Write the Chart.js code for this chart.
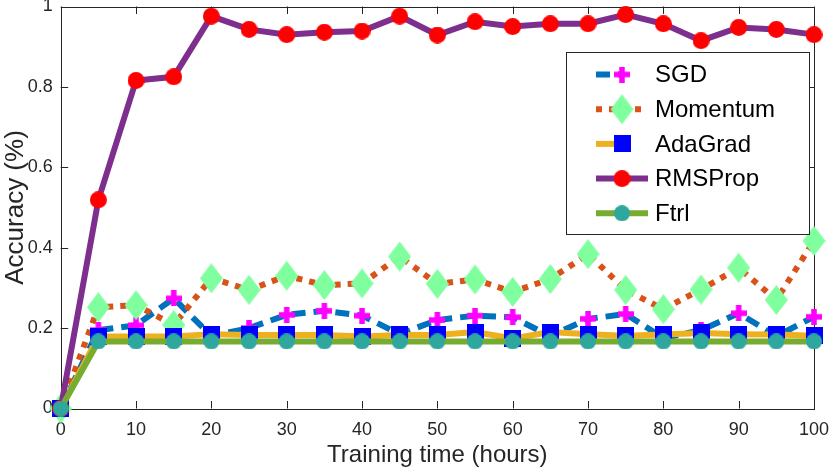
<!DOCTYPE html>
<html>
<head>
<meta charset="utf-8">
<script src="https://cdn.jsdelivr.net/npm/chart.js@4.4.1/dist/chart.umd.min.js"></script>
<style>
  html, body { margin: 0; padding: 0; background: #fff; }
  #wrap { width: 830px; height: 471px; }
</style>
</head>
<body>
<div id="wrap"><canvas id="chart" width="830" height="471"></canvas></div>
<script>
'use strict';

// training time (hours)
const hours = [0, 5, 10, 15, 20, 25, 30, 35, 40, 45, 50, 55, 60, 65, 70, 75, 80, 85, 90, 95, 100];

// accuracy
const sgd = [0, 0.195, 0.207, 0.274, 0.18, 0.2, 0.233, 0.243, 0.231, 0.185, 0.22,
  0.231, 0.227, 0.18, 0.223, 0.235, 0.175, 0.195, 0.237, 0.18, 0.228];
const momentum = [0, 0.252, 0.257, 0.208, 0.324, 0.295, 0.33, 0.307, 0.311, 0.378, 0.31,
  0.321, 0.29, 0.322, 0.384, 0.295, 0.247, 0.296, 0.35, 0.27, 0.417];
const adagrad = [0, 0.179, 0.179, 0.179, 0.185, 0.183, 0.183, 0.183, 0.179, 0.183, 0.183,
  0.19, 0.174, 0.19, 0.185, 0.181, 0.184, 0.188, 0.185, 0.184, 0.181];
const rmsprop = [0, 0.519, 0.816, 0.825, 0.976, 0.943, 0.93, 0.936, 0.939, 0.976, 0.929,
  0.962, 0.95, 0.957, 0.957, 0.98, 0.957, 0.915, 0.948, 0.943, 0.93];
const ftrl = [0, 0.1667, 0.1667, 0.1667, 0.1667, 0.1667, 0.1667, 0.1667, 0.1667, 0.1667, 0.1667,
  0.1667, 0.1667, 0.1667, 0.1667, 0.1667, 0.1667, 0.1667, 0.1667, 0.1667, 0.1667];

const xTicks = [0, 10, 20, 30, 40, 50, 60, 70, 80, 90, 100];
const yTicks = [0, 0.2, 0.4, 0.6, 0.8, 1];

const INK = '#262626';

// where the axes box sits in the original figure
const AREA = { left: 60.7, top: 6.5, right: 814, bottom: 408.5 };

// markers are drawn once on small canvases and handed to chart.js as pointStyle
function marker(w, h, paint) {
  const c = document.createElement('canvas');
  c.width = w;
  c.height = h;
  paint(c.getContext('2d'), w, h);
  return c;
}

const plus = marker(16, 16, (g, w, h) => {
  g.fillStyle = '#ff00ff';
  g.fillRect(0, 5.25, w, 5.5);
  g.fillRect(5.25, 0, 5.5, h);
});

const diamond = marker(23, 30, (g, w, h) => {
  g.fillStyle = '#80ff9f';
  g.beginPath();
  g.moveTo(w / 2, 0);
  g.lineTo(w, h / 2);
  g.lineTo(w / 2, h);
  g.lineTo(0, h / 2);
  g.closePath();
  g.fill();
});

const square = marker(17, 17, (g, w, h) => {
  g.fillStyle = '#0000ff';
  g.fillRect(0, 0, w, h);
});

const disc = (color, d) => marker(d, d, (g, w) => {
  g.fillStyle = color;
  g.beginPath();
  g.arc(w / 2, w / 2, w / 2, 0, Math.PI * 2);
  g.fill();
});

const series = [
  { label: 'SGD', data: sgd, color: '#0072bd', dash: [14, 8], point: plus, legendEnd: 622 },
  { label: 'Momentum', data: momentum, color: '#d95319', dash: [6, 7], point: diamond, legendEnd: 648 },
  { label: 'AdaGrad', data: adagrad, color: '#edb120', dash: [], point: square, legendEnd: 622 },
  { label: 'RMSProp', data: rmsprop, color: '#7e2f8e', dash: [], point: disc('#ff0000', 17), legendEnd: 648 },
  { label: 'Ftrl', data: ftrl, color: '#77ac30', dash: [], point: disc('#2ea89f', 16), legendEnd: 648 }
];

// box with inward ticks on all four sides, like the original figure
const framePlugin = {
  id: 'frame',
  beforeDatasetsDraw(chart) {
    const { ctx, chartArea: a, scales: { x, y } } = chart;
    const len = 7.5;
    ctx.save();
    ctx.strokeStyle = INK;
    ctx.lineWidth = 1;
    ctx.strokeRect(Math.round(a.left) + 0.5, Math.round(a.top) + 0.5,
      Math.round(a.right - a.left), Math.round(a.bottom - a.top));
    ctx.beginPath();
    xTicks.forEach((v) => {
      const px = Math.round(x.getPixelForValue(v)) + 0.5;
      ctx.moveTo(px, a.bottom);
      ctx.lineTo(px, a.bottom - len);
      ctx.moveTo(px, a.top);
      ctx.lineTo(px, a.top + len);
    });
    yTicks.forEach((v) => {
      const py = Math.round(y.getPixelForValue(v)) + 0.5;
      ctx.moveTo(a.left, py);
      ctx.lineTo(a.left + len, py);
      ctx.moveTo(a.right, py);
      ctx.lineTo(a.right - len, py);
    });
    ctx.stroke();
    ctx.restore();
  }
};

// legend with line sample and marker, drawn over the data
const legendPlugin = {
  id: 'lineLegend',
  afterDraw(chart) {
    const { ctx } = chart;
    const box = { left: 566, top: 52, right: 809, bottom: 234 };
    ctx.save();
    ctx.fillStyle = '#fff';
    ctx.fillRect(box.left, box.top, box.right - box.left, box.bottom - box.top);
    ctx.strokeStyle = INK;
    ctx.lineWidth = 1;
    ctx.strokeRect(box.left + 0.5, box.top + 0.5, box.right - box.left, box.bottom - box.top);

    series.forEach((s, i) => {
      const cy = 74.5 + i * 34.7;
      ctx.strokeStyle = s.color;
      ctx.lineWidth = 6;
      ctx.lineCap = 'butt';
      ctx.setLineDash(s.dash);
      ctx.beginPath();
      ctx.moveTo(596, cy);
      ctx.lineTo(s.legendEnd, cy);
      ctx.stroke();
      ctx.setLineDash([]);
      ctx.drawImage(s.point, 622 - s.point.width / 2, cy - s.point.height / 2);

      ctx.fillStyle = '#000';
      ctx.font = '24px "Liberation Sans", Arial, sans-serif';
      ctx.textBaseline = 'middle';
      ctx.textAlign = 'left';
      ctx.fillText(s.label, 655, cy + 1);
    });
    ctx.restore();
  }
};

const datasets = series.map((s, i) => ({
  label: s.label,
  data: hours.map((h, k) => ({ x: h, y: s.data[k] })),
  borderColor: s.color,
  borderWidth: 6,
  borderDash: s.dash,
  borderCapStyle: 'butt',
  pointStyle: s.point,
  pointRadius: 8,
  pointHoverRadius: 8,
  tension: 0,
  clip: 20,
  // later series sit on top, as in the original
  order: series.length - i
}));

Chart.defaults.font.family = '"Liberation Sans", Arial, sans-serif';
Chart.defaults.color = INK;

new Chart(document.getElementById('chart'), {
  type: 'line',
  data: { datasets },
  options: {
    responsive: false,
    animation: false,
    events: [],
    // no extra room for the markers: the box has to stay where the figure has it
    layout: {
      autoPadding: false,
      padding: { top: AREA.top, right: 830 - AREA.right, bottom: 0, left: 0 }
    },
    plugins: {
      legend: { display: false },
      tooltip: { enabled: false }
    },
    scales: {
      x: {
        type: 'linear',
        min: 0,
        max: 100,
        grid: { display: false, drawTicks: false },
        border: { display: false },
        ticks: {
          stepSize: 10,
          padding: 11,
          color: INK,
          font: { size: 18 },
          maxRotation: 0
        },
        title: {
          display: true,
          text: 'Training time (hours)',
          color: INK,
          font: { size: 24 },
          padding: { top: 0, bottom: 1 }
        },
        afterFit: (scale) => {
          scale.height = 471 - AREA.bottom;
          scale.paddingLeft = 0;
          scale.paddingRight = 0;
        }
      },
      y: {
        min: 0,
        max: 1,
        grid: { display: false, drawTicks: false },
        border: { display: false },
        ticks: {
          stepSize: 0.2,
          padding: 8,
          color: INK,
          font: { size: 18 },
          callback: (v) => String(+v.toFixed(1))
        },
        title: {
          display: true,
          text: 'Accuracy (%)',
          color: INK,
          font: { size: 26 },
          padding: { top: 0, bottom: 0 }
        },
        afterFit: (scale) => {
          scale.width = AREA.left;
          scale.paddingTop = 0;
          scale.paddingBottom = 0;
        }
      }
    }
  },
  plugins: [framePlugin, legendPlugin]
});
</script>
</body>
</html>
